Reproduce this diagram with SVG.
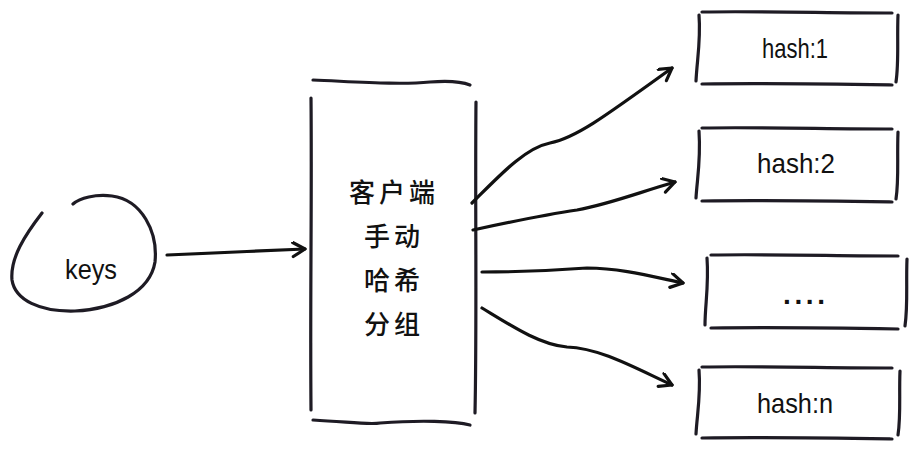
<svg xmlns="http://www.w3.org/2000/svg" width="920" height="460" viewBox="0 0 920 460">
<style>
.s{fill:none;stroke:#1e1b24;stroke-width:3.2;stroke-linecap:round;stroke-linejoin:round}
.a{fill:none;stroke:#111;stroke-width:3.2;stroke-linecap:round;stroke-linejoin:round}
.t{font-family:"Liberation Sans","DejaVu Sans",sans-serif;font-size:28px;fill:#111;text-anchor:middle;dominant-baseline:central}
.c{font-family:"Noto Sans CJK SC","Noto Sans CJK JP",sans-serif;font-size:26px;font-weight:500;fill:#111;text-anchor:middle;dominant-baseline:central;letter-spacing:4px}
</style>
<defs>
<marker id="ah" markerWidth="20" markerHeight="20" refX="14" refY="8" orient="auto" markerUnits="userSpaceOnUse">
<path d="M2,1 L14,8 L2,15" fill="none" stroke="#111" stroke-width="3.2" stroke-linecap="round" stroke-linejoin="round"/>
</marker>
</defs>
<rect width="920" height="460" fill="#fff"/>
<g id="keys">
<path class="s" d="M42,213 C25,235 10,258 12,280 C15,300 40,312 75,311 C115,309 150,292 155,262 C158,232 142,200 112,196 C95,194 80,198 73,204"/>
<text class="t" x="91" y="269" textLength="52" lengthAdjust="spacingAndGlyphs">keys</text>
</g>
<g id="client">
<path class="s" d="M313,80 C360,82 400,85 430,82 C455,80 465,83 470,85"/>
<path class="s" d="M311,98 C312,200 310,300 311,410"/>
<path class="s" d="M476,102 C475,200 477,320 475,413"/>
<path class="s" d="M313,420 C350,422 370,425 380,423 C420,420 455,421 470,425"/>
<text class="c" x="394" y="190">客户端</text>
<text class="c" x="394" y="234">手动</text>
<text class="c" x="394" y="278">哈希</text>
<text class="c" x="394" y="322">分组</text>
</g>
<g id="hash1">
<path class="s" d="M702,12 C760,11 830,13 892,13"/>
<path class="s" d="M702,84 C770,83 830,84 892,85"/>
<path class="s" d="M699,15 C701,40 697,60 696,81"/>
<path class="s" d="M898,15 C897,40 899,62 896,82"/>
<text class="t" x="795" y="48" textLength="66" lengthAdjust="spacingAndGlyphs">hash:1</text>
</g>
<g id="hash2">
<path class="s" d="M702,128 C760,127 830,129 892,129"/>
<path class="s" d="M702,201 C770,200 830,201 892,202"/>
<path class="s" d="M699,131 C701,160 697,180 696,198"/>
<path class="s" d="M898,132 C897,160 899,180 896,199"/>
<text class="t" x="796" y="163" textLength="78" lengthAdjust="spacingAndGlyphs">hash:2</text>
</g>
<g id="more">
<path class="s" d="M711,255 C770,254 840,256 898,256"/>
<path class="s" d="M711,328 C780,327 840,328 898,329"/>
<path class="s" d="M707,258 C709,285 705,305 705,325"/>
<path class="s" d="M907,259 C906,285 908,305 905,326"/>
<text class="t" x="804" y="294" font-weight="bold" textLength="42" lengthAdjust="spacing">....</text>
</g>
<g id="hashn">
<path class="s" d="M702,367 C760,366 830,368 892,368"/>
<path class="s" d="M702,438 C770,437 830,438 892,439"/>
<path class="s" d="M699,370 C701,395 697,415 696,434"/>
<path class="s" d="M900,371 C899,395 901,415 898,435"/>
<text class="t" x="795" y="403" textLength="76" lengthAdjust="spacingAndGlyphs">hash:n</text>
</g>
<g id="connectors">
<path class="a" d="M167,255 C210,253 260,251 305,249" marker-end="url(#ah)"/>
<path class="a" d="M472,203 C500,175 525,148 550,143 C575,138 600,120 672,68" marker-end="url(#ah)"/>
<path class="a" d="M473,230 C510,222 550,214 577,210 C610,204 640,192 675,182" marker-end="url(#ah)"/>
<path class="a" d="M482,272 C520,272 560,270 587,268 C620,268 650,276 683,283" marker-end="url(#ah)"/>
<path class="a" d="M482,308 C510,325 540,345 567,347 C600,348 635,368 672,385" marker-end="url(#ah)"/>
</g>
</svg>
